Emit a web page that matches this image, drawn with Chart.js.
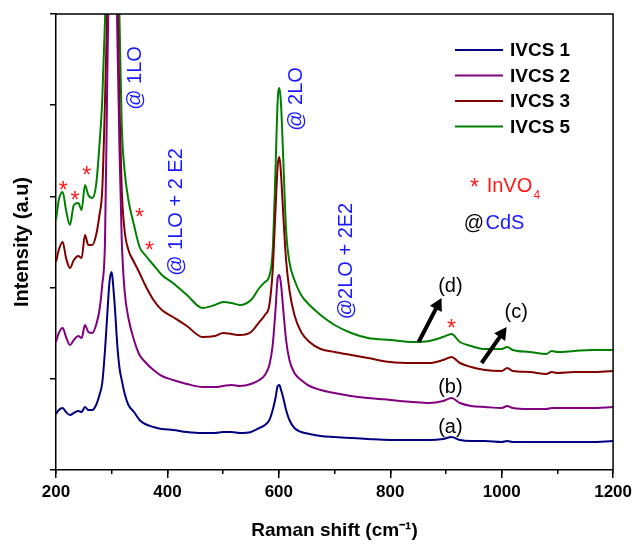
<!DOCTYPE html>
<html>
<head>
<meta charset="utf-8">
<title>Raman spectra IVCS</title>
<script src="https://cdn.jsdelivr.net/npm/chart.js@4.4.1/dist/chart.umd.min.js"></script>
<style>
  html, body { margin: 0; padding: 0; background: #fff; }
  #wrap { width: 636px; height: 544px; }
</style>
</head>
<body>
<div id="wrap"><canvas id="raman" width="636" height="544"></canvas></div>
<script>
// Raman shift (cm-1) where the spectra were read
const shifts = [200, 205, 212, 218, 225, 232, 240, 246, 252, 258, 265, 272, 278, 283, 288, 292, 296, 300, 303, 306,
  310, 314, 318, 323, 330, 340, 350, 360, 375, 390, 410, 435, 463, 485, 500, 515, 530, 550, 565, 575,
  583, 589, 594, 598, 601, 604, 608, 613, 619, 628, 640, 655, 675, 700, 730, 760, 800, 840, 870, 895,
  910, 925, 945, 970, 1000, 1010, 1020, 1050, 1080, 1090, 1100, 1130, 1160, 1200]

// intensities (a.u.), stacked spectra
const ivcs1 = [56, 60, 62, 58, 55, 57, 59, 58, 63, 60, 60, 65, 75, 87, 120, 155, 188, 198, 182, 160,
  125, 102, 90, 77, 65, 58, 50, 46, 43, 41, 40, 38, 37, 37, 38, 38, 37, 38, 42, 45,
  50, 60, 72, 84, 85, 80, 72, 60, 50, 42, 38, 36, 34, 33, 32, 31, 30, 30, 30, 31,
  33, 30, 29, 29, 28, 29, 28, 28, 28, 28, 28, 28, 28, 29]
const ivcs2 = [128, 137, 142, 133, 125, 130, 134, 132, 145, 138, 137, 145, 160, 185, 230, 390, 530, 590, 600, 570,
  440, 320, 230, 180, 152, 130, 115, 108, 100, 94, 90, 86, 83, 83, 84, 85, 84, 86, 90, 95,
  105, 125, 160, 192, 195, 185, 160, 130, 110, 97, 90, 84, 80, 77, 74, 72, 70, 68, 67, 69,
  72, 67, 64, 63, 62, 64, 62, 61, 61, 62, 62, 62, 62, 63]
const ivcs3 = [208, 220, 228, 212, 202, 210, 214, 212, 235, 225, 225, 235, 255, 280, 370, 460, 550, 600, 610, 580,
  490, 360, 280, 240, 220, 208, 197, 185, 170, 160, 153, 144, 133, 134, 137, 136, 135, 138, 148, 155,
  165, 200, 260, 305, 313, 295, 255, 210, 180, 155, 138, 128, 121, 118, 115, 112, 108, 107, 107, 110,
  113, 107, 103, 100, 99, 102, 99, 98, 96, 98, 97, 98, 98, 99]
const ivcs5 = [250, 270, 278, 260, 245, 265, 267, 260, 285, 275, 272, 285, 325, 370, 450, 530, 600, 620, 630, 610,
  550, 450, 345, 300, 270, 245, 223, 215, 205, 195, 187, 175, 162, 165, 168, 167, 165, 170, 182, 188,
  194, 220, 300, 370, 382, 365, 310, 240, 208, 190, 175, 165, 155, 145, 137, 132, 130, 128, 129, 133,
  136, 128, 124, 121, 121, 123, 120, 118, 116, 119, 118, 119, 120, 120]

const seriesNames = ['IVCS 1', 'IVCS 2', 'IVCS 3', 'IVCS 5']
const seriesColors = ['#000080', '#800080', '#800000', '#008000']
const seriesValues = [ivcs1, ivcs2, ivcs3, ivcs5]

const FONT = '"Liberation Sans", Arial, sans-serif'
Chart.defaults.font.family = FONT
Chart.defaults.color = '#000'

const blue = '#1a1aff'
const red = '#ff1a1a'

// labels drawn over the plot, anchored in data units
const modeLabels = [
  { text: '@ 1LO', x: 343, y: 392 },
  { text: '@ 1LO + 2 E2', x: 416, y: 258 },
  { text: '@ 2LO', x: 631, y: 371 },
  { text: '@2LO + 2E2', x: 722, y: 209 }
]
const starMarks = [[213, 285], [234, 275], [255, 300], [350, 258], [368, 225], [910, 147]]
const sampleTags = [
  { text: '(d)', x: 908, y: 178 },
  { text: '(c)', x: 1026, y: 152 },
  { text: '(b)', x: 908, y: 77 },
  { text: '(a)', x: 908, y: 37 }
]
const arrows = [[851, 128, 892, 172], [964, 107, 1009, 143]]

const overlay = {
  id: 'overlay',
  afterDraw (chart) {
    const { ctx, chartArea: a, scales: { x, y } } = chart
    const px = v => x.getPixelForValue(v)
    const py = v => y.getPixelForValue(v)
    ctx.save()

    // top and right frame
    ctx.strokeStyle = '#000'
    ctx.lineWidth = 1.5
    ctx.beginPath()
    ctx.moveTo(a.left, a.top)
    ctx.lineTo(a.right, a.top)
    ctx.lineTo(a.right, a.bottom)
    ctx.stroke()

    // legend
    seriesNames.forEach((name, i) => {
      const ry = a.top + 36 + i * 25.5
      ctx.strokeStyle = seriesColors[i]
      ctx.lineWidth = 2
      ctx.beginPath()
      ctx.moveTo(a.left + 399, ry)
      ctx.lineTo(a.left + 447, ry)
      ctx.stroke()
      ctx.fillStyle = '#000'
      ctx.font = 'bold 19px ' + FONT
      ctx.textAlign = 'left'
      ctx.textBaseline = 'middle'
      ctx.fillText(name, a.left + 454, ry + 1)
    })

    // rotated mode labels
    ctx.fillStyle = blue
    ctx.font = '20px ' + FONT
    modeLabels.forEach(l => {
      ctx.save()
      ctx.translate(px(l.x), py(l.y))
      ctx.rotate(-Math.PI / 2)
      ctx.textAlign = 'center'
      ctx.textBaseline = 'middle'
      ctx.fillText(l.text, 0, 0)
      ctx.restore()
    })

    // InVO4 asterisks
    ctx.fillStyle = red
    ctx.font = '23px ' + FONT
    ctx.textAlign = 'center'
    ctx.textBaseline = 'alphabetic'
    starMarks.forEach(([sx, sy]) => ctx.fillText('*', px(sx), py(sy) + 13))

    // key for the markers
    ctx.textAlign = 'left'
    ctx.fillText('*', px(943), py(288) + 13)
    ctx.font = '20px ' + FONT
    ctx.fillText('InVO', px(973), py(278))
    ctx.font = '12px ' + FONT
    ctx.fillText('4', px(1057), py(271))
    ctx.font = '20px ' + FONT
    ctx.fillStyle = '#000'
    ctx.fillText('@', px(932), py(241))
    ctx.fillStyle = blue
    ctx.fillText('CdS', px(971), py(241))

    // sample tags
    ctx.fillStyle = '#000'
    ctx.textAlign = 'center'
    sampleTags.forEach(t => ctx.fillText(t.text, px(t.x), py(t.y)))

    // arrows
    ctx.strokeStyle = '#000'
    ctx.lineWidth = 4
    arrows.forEach(([x0, y0, x1, y1]) => {
      const ax = px(x0); const ay = py(y0); const bx = px(x1); const by = py(y1)
      const ang = Math.atan2(by - ay, bx - ax)
      const head = 14
      const ex = bx - Math.cos(ang) * head * 0.7
      const ey = by - Math.sin(ang) * head * 0.7
      ctx.beginPath()
      ctx.moveTo(ax, ay)
      ctx.lineTo(ex, ey)
      ctx.stroke()
      ctx.beginPath()
      ctx.moveTo(bx, by)
      ctx.lineTo(bx - head * Math.cos(ang - 0.5), by - head * Math.sin(ang - 0.5))
      ctx.lineTo(bx - head * Math.cos(ang + 0.5), by - head * Math.sin(ang + 0.5))
      ctx.closePath()
      ctx.fill()
    })

    ctx.restore()
  }
}

const axisLine = { color: '#000', width: 1.5 }

new Chart(document.getElementById('raman'), {
  type: 'line',
  data: {
    datasets: seriesValues.map((vals, i) => ({
      label: seriesNames[i],
      data: shifts.map((s, k) => ({ x: s, y: vals[k] })),
      borderColor: seriesColors[i],
      borderWidth: 2,
      pointRadius: 0,
      cubicInterpolationMode: 'monotone',
      xAxisID: 'x',
      yAxisID: 'y'
    }))
  },
  options: {
    responsive: false,
    animation: false,
    layout: { padding: { top: 14, right: 21, left: 0, bottom: 0 } },
    plugins: { legend: { display: false }, tooltip: { enabled: false } },
    scales: {
      x: {
        type: 'linear',
        position: 'bottom',
        weight: 1,
        min: 200,
        max: 1200,
        ticks: { stepSize: 200, padding: 4, maxRotation: 0, font: { size: 17, weight: 'bold' }, color: '#000', callback: v => String(v) },
        grid: { drawOnChartArea: false, tickLength: 8, color: '#000', lineWidth: 1.5 },
        border: axisLine,
        title: { display: true, text: 'Raman shift (cm⁻¹)', color: '#000', font: { size: 19, weight: 'bold' }, padding: { top: 0, bottom: 2 } },
        afterFit: s => { s.height = 74 }
      },
      xMinor: {
        type: 'linear',
        axis: 'x',
        position: 'bottom',
        weight: 0,
        min: 200,
        max: 1200,
        ticks: { stepSize: 100, display: false },
        grid: { drawOnChartArea: false, tickLength: 4, color: '#000', lineWidth: 1.5 },
        border: { display: false },
        afterFit: s => { s.height = 0 }
      },
      y: {
        type: 'linear',
        min: 0,
        max: 456,
        ticks: { stepSize: 91.2, display: false },
        grid: { drawOnChartArea: false, tickLength: 6, color: '#000', lineWidth: 1.5 },
        border: axisLine,
        title: { display: true, text: 'Intensity (a.u)', color: '#000', font: { size: 20, weight: 'bold' }, padding: { top: 10, bottom: 0 } },
        afterFit: s => { s.width = 56 }
      }
    }
  },
  plugins: [overlay]
})
</script>
</body>
</html>
